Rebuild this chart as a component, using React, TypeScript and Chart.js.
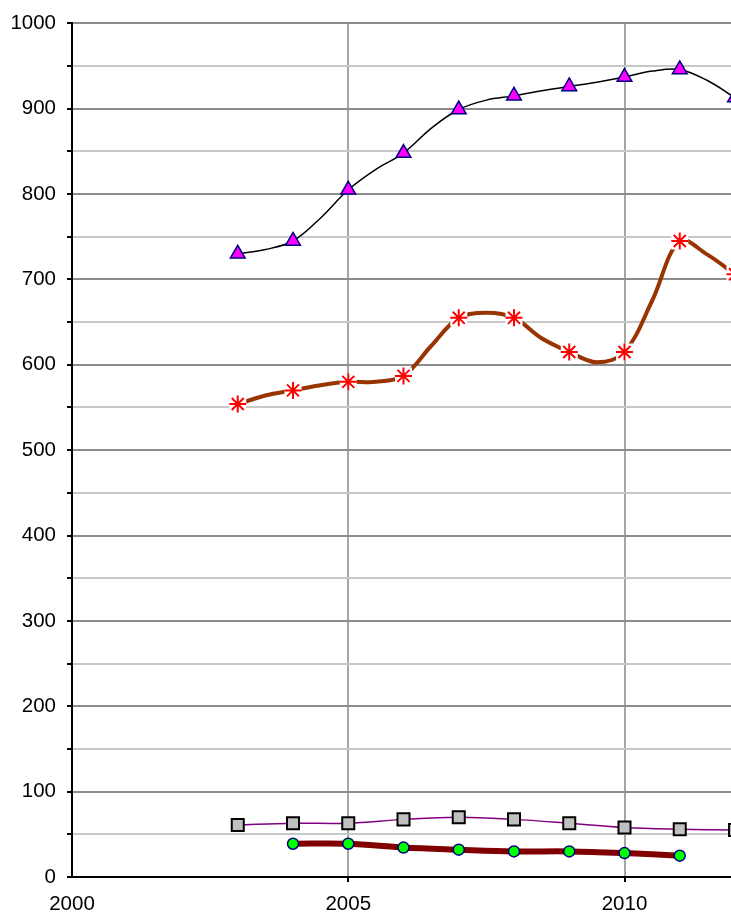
import React, { useEffect, useRef } from 'react';
import { Chart, registerables } from 'chart.js';
Chart.register(...registerables);

// Marker values (yearly)
const years = [2003, 2004, 2005, 2006, 2007, 2008, 2009, 2010, 2011, 2012];
const triangleValues = [730, 745, 805, 848, 899, 915, 926, 937, 946, 913];
const starValues = [554, 570, 580, 587, 655, 655, 615, 615, 745, 706];
const squareValues = [61, 63, 63, 67.5, 70, 67.5, 63, 58, 56, 55];
const circleYears = [2004, 2005, 2006, 2007, 2008, 2009, 2010, 2011];
const circleValues = [39, 39, 34.5, 32, 30, 30, 28, 25];

// Line values (half-yearly)
const halfYears = [2003, 2003.5, 2004, 2004.5, 2005, 2005.5, 2006, 2006.5, 2007, 2007.5, 2008, 2008.5, 2009, 2009.5, 2010, 2010.5, 2011, 2011.5, 2012];
const triangleLine = [730, 735, 745, 772, 805, 829, 848, 877, 899, 910, 915, 921, 926, 931, 937, 944, 946, 933, 913];
const starLine = [554, 564, 570, 576, 580, 580, 587, 622, 655, 661, 655, 631, 615, 603, 615, 675, 745, 729, 706];

const xTicks = [2000, 2005, 2010];
const yMin = 0;
const yMax = 1000;

const pts = (xs: number[], ys: number[]) => xs.map((x, i) => ({ x, y: ys[i] }));

export default function App() {
  const ref = useRef<HTMLCanvasElement>(null);
  useEffect(() => {
    document.body.style.margin = '0';
    const canvas = ref.current!;
    Chart.defaults.font.family = '"Liberation Sans", Arial, sans-serif';
    const chart = new Chart(canvas, {
      type: 'line',
      data: {
        datasets: [
          { data: pts(years, triangleValues), showLine: false, pointStyle: 'triangle', pointRadius: 8.5, pointBackgroundColor: '#ff00ff', pointBorderColor: '#000080', pointBorderWidth: 1.5, order: 0 } as any,
          { data: pts(years, starValues), showLine: false, pointStyle: 'star', pointRadius: 8.5, pointBackgroundColor: '#ff0000', pointBorderColor: '#ff0000', pointBorderWidth: 2, order: 0 },
          { data: pts(years, squareValues), showLine: false, pointStyle: 'rect', pointRadius: 8.5, pointBackgroundColor: '#c0c0c0', pointBorderColor: '#000000', pointBorderWidth: 2, order: 0 },
          { data: pts(circleYears, circleValues), showLine: false, pointStyle: 'circle', pointRadius: 5.5, pointBackgroundColor: '#00ff00', pointBorderColor: '#000080', pointBorderWidth: 1.5, order: 0 },
          { data: pts(years, starValues), showLine: false, pointStyle: 'rect', pointRadius: 12, pointBackgroundColor: '#ffffff', pointBorderColor: '#ffffff', pointBorderWidth: 0, order: 1 },
          { data: pts(halfYears, triangleLine), borderColor: '#000000', borderWidth: 1.5, pointRadius: 0, tension: 0.35, order: 2 },
          { data: pts(halfYears, starLine), borderColor: '#993300', borderWidth: 4, pointRadius: 0, tension: 0.35, order: 2 },
          { data: pts(years, squareValues), borderColor: '#800080', borderWidth: 1.5, pointRadius: 0, tension: 0.35, order: 2 },
          { data: pts(circleYears, circleValues), borderColor: '#800000', borderWidth: 6, pointRadius: 0, tension: 0.35, order: 2 },
        ],
      },
      options: {
        animation: false,
        responsive: false,
        events: [],
        layout: { padding: { top: 23, right: 1, left: 0, bottom: 0 } },
        plugins: { legend: { display: false }, tooltip: { enabled: false } },
        scales: {
          x: {
            type: 'linear',
            position: 'bottom',
            min: 2000,
            max: 2012,
            afterBuildTicks: (axis: any) => {
              axis.ticks = xTicks.map((v) => ({ value: v }));
            },
            afterFit: (axis: any) => { axis.height = 36; },
            ticks: {
              stepSize: 5,
              autoSkip: false,
              maxRotation: 0,
              color: '#000000',
              font: { size: 20.5 },
              padding: 10,
              callback: (v: any) => String(v),
            },
            grid: {
              color: (c: any) => (c.tick && c.tick.value === 2000 ? 'rgba(0,0,0,0)' : '#a6a6a6'),
              lineWidth: 2,
              tickColor: (c: any) => (c.tick && c.tick.value === 2000 ? 'rgba(0,0,0,0)' : '#000000'),
              tickLength: 5,
              tickWidth: 2,
            },
            border: { color: '#000000', width: 2 },
          },
          y: {
            type: 'linear',
            min: yMin,
            max: yMax,
            afterFit: (axis: any) => { axis.width = 72; },
            ticks: {
              stepSize: 50,
              autoSkip: false,
              color: '#000000',
              font: { size: 20.5 },
              padding: 11,
              callback: (v: any) => (Number(v) % 100 === 0 ? String(v) : ''),
            },
            grid: {
              color: (c: any) => (c.tick && c.tick.value % 100 === 0 ? '#8c8c8c' : '#c8c8c8'),
              lineWidth: 2,
              tickColor: '#000000',
              tickLength: 5,
              tickWidth: 2,
            },
            border: { color: '#000000', width: 2 },
          },
        },
      },
    });
    return () => chart.destroy();
  }, []);
  return (
    <div style={{ width: 731, height: 913, overflow: 'hidden', background: '#fff' }}>
      <canvas ref={ref} width={747} height={913} style={{ display: 'block' }} />
    </div>
  );
}
